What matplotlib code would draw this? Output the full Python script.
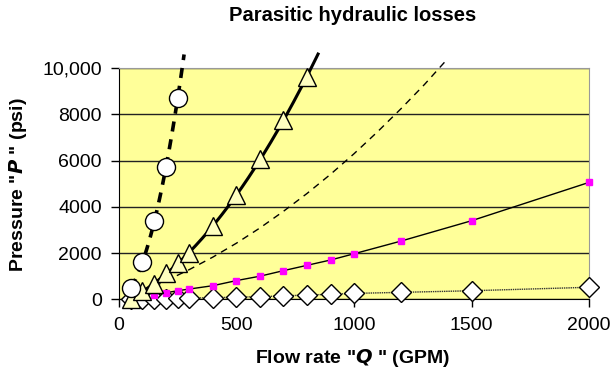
import numpy as np
import matplotlib.pyplot as plt

plt.rcParams['font.family'] = ['Liberation Sans', 'DejaVu Sans']

# Circles (steep curve, dashed trendline)
q_circ = [50, 100, 150, 200, 250]
p_circ = [500, 1600, 3370, 5730, 8720]
circ_end = 277

# Triangles (solid thick trendline)
q_tri = [50, 100, 150, 200, 250, 300, 400, 500, 600, 700, 800]
p_tri = [30, 360, 650, 1120, 1560, 2020, 3170, 4520, 6060, 7760, 9640]
tri_end = 847

# Magenta squares (thin solid line)
q_sq = [150, 200, 250, 300, 400, 500, 600, 700, 800, 900, 1000, 1200, 1500, 2000]
p_sq = [190, 285, 370, 445, 590, 810, 1000, 1240, 1470, 1700, 1970, 2520, 3400, 5060]

# Diamonds (dotted line)
q_dia = [50, 100, 150, 200, 250, 300, 400, 500, 600, 700, 800, 900, 1000, 1200, 1500, 2000]
p_dia = [5, 10, 20, 30, 40, 50, 70, 90, 115, 145, 185, 215, 255, 300, 370, 520]

# Thin dashed curve, no markers
q_dash = [150, 200, 300, 400, 500, 600, 700, 800, 900, 1000, 1100, 1200, 1300, 1400]
p_dash = [560, 800, 1290, 1830, 2430, 3090, 3810, 4580, 5410, 6300, 7250, 8250, 9300, 10430]

fig = plt.figure(figsize=(6.14, 3.8), dpi=100)
ax = fig.add_axes([0.1938, 0.2124, 0.7655, 0.6079])
ax.set_facecolor('#FFFF99')

# trendlines (2nd order polynomial, as in the spreadsheet)
c = np.polyfit(q_circ, p_circ, 2)
xc = np.linspace(q_circ[0], circ_end, 100)
ax.plot(xc, np.polyval(c, xc), color='black', lw=2.6, dashes=(2.8, 2.2),
        clip_on=False, zorder=3)
t = np.polyfit(q_tri, p_tri, 2)
xt = np.linspace(q_tri[0], tri_end, 200)
ax.plot(xt, np.polyval(t, xt), color='black', lw=2.2, clip_on=False, zorder=3)

ax.plot(q_dash, p_dash, color='black', lw=1.0, dashes=(5, 4), clip_on=False, zorder=2)
ax.plot(q_sq, p_sq, color='black', lw=1.0, zorder=2)
ax.plot(q_dia, p_dia, color='#333333', lw=1.0, linestyle=(0, (1, 0.6)), zorder=2)

ax.plot(q_dia, p_dia, linestyle='none', marker='D', markersize=10,
        markerfacecolor='white', markeredgecolor='black', markeredgewidth=1.0,
        clip_on=False, zorder=4)
ax.plot(q_sq, p_sq, linestyle='none', marker='s', markersize=5,
        markerfacecolor='#FF00FF', markeredgecolor='#FF00FF', clip_on=False, zorder=5)
ax.plot(q_tri, p_tri, linestyle='none', marker='^', markersize=13,
        markerfacecolor='#FFFFC0', markeredgecolor='black', markeredgewidth=1.0,
        clip_on=False, zorder=6)
ax.plot(q_circ, p_circ, linestyle='none', marker='o', markersize=13,
        markerfacecolor='white', markeredgecolor='black', markeredgewidth=1.0,
        clip_on=False, zorder=7)

ax.set_xlim(0, 2000)
ax.set_ylim(0, 10000)
ax.set_xticks([0, 500, 1000, 1500, 2000])
ax.set_yticks([0, 2000, 4000, 6000, 8000, 10000])
ax.set_yticklabels(['0', '2000', '4000', '6000', '8000', '10,000'])
ax.tick_params(axis='both', direction='out', length=6, width=1, labelsize=14,
               colors='black')
ax.tick_params(axis='x', pad=7)
ax.tick_params(axis='y', pad=6.5)
ax.yaxis.grid(True, color='#222222', lw=1.0)
ax.set_axisbelow(True)
for s in ['top', 'right']:
    ax.spines[s].set_color('#999999')
for s in ['left', 'bottom']:
    ax.spines[s].set_color('black')

fig.text(0.575, 0.96, 'Parasitic hydraulic losses', ha='center', va='center',
         fontsize=14.5, fontweight='bold')
fig.text(0.575, 1 - 358 / 380, 'Flow rate "$\\boldsymbol{Q}$ " (GPM)', ha='center',
         va='center', fontsize=14, fontweight='bold')
fig.text(18 / 614, 1 - 185 / 380, 'Pressure "$\\boldsymbol{P}$ " (psi)', ha='center',
         va='center', rotation=90, fontsize=14, fontweight='bold')

fig.savefig('out.png', dpi=100)
